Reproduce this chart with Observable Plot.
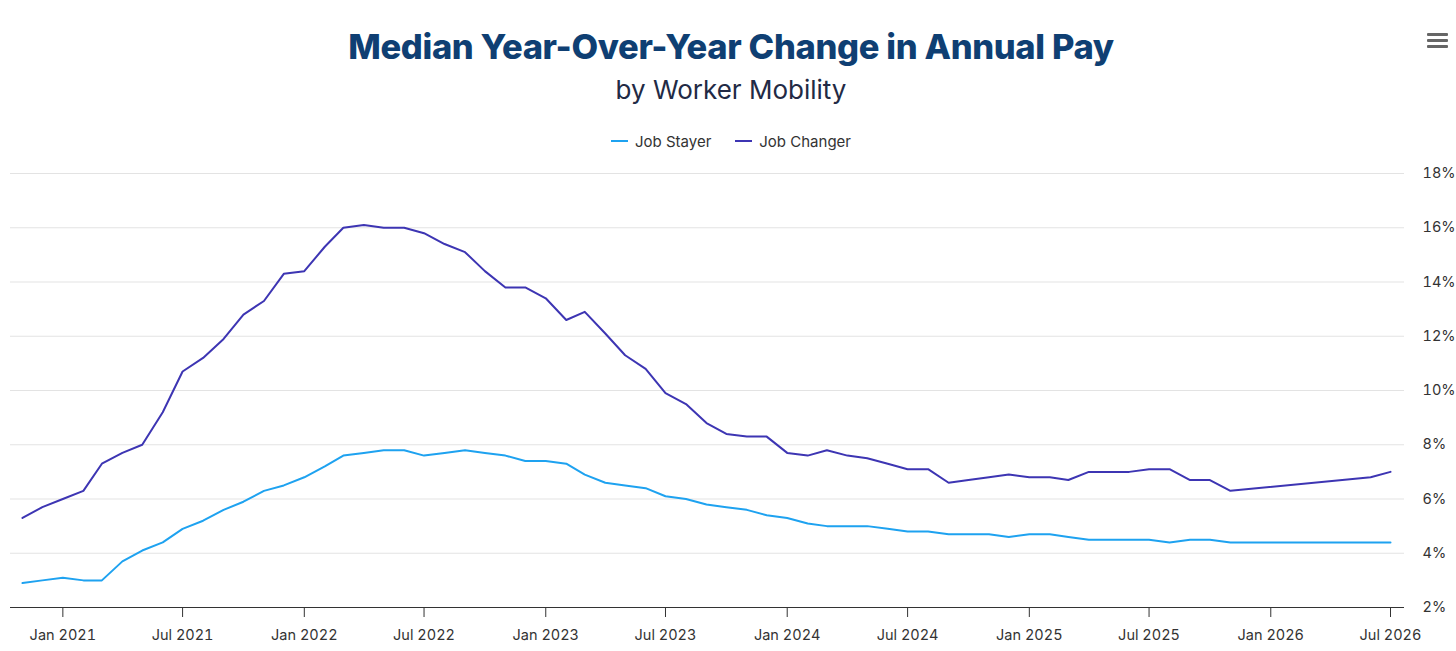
<!DOCTYPE html>
<html>
<head>
<meta charset="utf-8">
<script src="https://cdn.jsdelivr.net/npm/d3@7"></script>
<script src="https://cdn.jsdelivr.net/npm/@observablehq/plot@0.6"></script>
<style>
  html, body { margin: 0; padding: 0; background: #fff; }
  body { width: 1456px; height: 651px; position: relative; overflow: hidden; font-family: Inter, "Noto Sans", sans-serif; }
  #title { position: absolute; left: 0; width: 1462px; top: 26px; text-align: center; font-size: 34.5px; font-weight: 800; color: #0f3f73; letter-spacing: -0.35px; }
  #subtitle { position: absolute; left: 0; width: 1462px; top: 74px; text-align: center; font-size: 26px; font-weight: 400; color: #222a45; }
  #legend { position: absolute; left: 0; width: 1462px; top: 127px; text-align: center; font-size: 15px; color: #333; }
  #legend span.item { display: inline-flex; align-items: center; margin: 0 12px; }
  #legend span.sw { display: inline-block; width: 17px; height: 2px; margin-right: 7px; }
  #menu { position: absolute; left: 1427px; top: 33px; width: 21px; }
  #menu div { height: 3px; background: #666; margin-bottom: 3px; border-radius: 1px; }
  #chart { position: absolute; left: 0; top: 160px; }
</style>
</head>
<body>
<div id="title">Median Year-Over-Year Change in Annual Pay</div>
<div id="subtitle">by Worker Mobility</div>
<div id="legend"></div>
<div id="menu"><div></div><div></div><div></div></div>
<div id="chart"></div>
<script>
const months = [
  "2020-11","2020-12",
  "2021-01","2021-02","2021-03","2021-04","2021-05","2021-06","2021-07","2021-08","2021-09","2021-10","2021-11","2021-12",
  "2022-01","2022-02","2022-03","2022-04","2022-05","2022-06","2022-07","2022-08","2022-09","2022-10","2022-11","2022-12",
  "2023-01","2023-02","2023-03","2023-04","2023-05","2023-06","2023-07","2023-08","2023-09","2023-10","2023-11","2023-12",
  "2024-01","2024-02","2024-03","2024-04","2024-05","2024-06","2024-07","2024-08","2024-09","2024-10","2024-11","2024-12",
  "2025-01","2025-02","2025-03","2025-04","2025-05","2025-06","2025-07","2025-08","2025-09","2025-10","2025-11",
  "2026-06","2026-07"
];
const jobStayer = [
  2.9,3.0,
  3.1,3.0,3.0,3.7,4.1,4.4,4.9,5.2,5.6,5.9,6.3,6.5,
  6.8,7.2,7.6,7.7,7.8,7.8,7.6,7.7,7.8,7.7,7.6,7.4,
  7.4,7.3,6.9,6.6,6.5,6.4,6.1,6.0,5.8,5.7,5.6,5.4,
  5.3,5.1,5.0,5.0,5.0,4.9,4.8,4.8,4.7,4.7,4.7,4.6,
  4.7,4.7,4.6,4.5,4.5,4.5,4.5,4.4,4.5,4.5,4.4,
  4.4,4.4
];
const jobChanger = [
  5.3,5.7,
  6.0,6.3,7.3,7.7,8.0,9.2,10.7,11.2,11.9,12.8,13.3,14.3,
  14.4,15.3,16.0,16.1,16.0,16.0,15.8,15.4,15.1,14.4,13.8,13.8,
  13.4,12.6,12.9,12.1,11.3,10.8,9.9,9.5,8.8,8.4,8.3,8.3,
  7.7,7.6,7.8,7.6,7.5,7.3,7.1,7.1,6.6,6.7,6.8,6.9,
  6.8,6.8,6.7,7.0,7.0,7.0,7.1,7.1,6.7,6.7,6.3,
  6.8,7.0
];
const seriesNames = ["Job Stayer", "Job Changer"];
const seriesColors = ["#1ea2f0", "#3d35b3"];
const yTicks = [2,4,6,8,10,12,14,16,18];

const parse = d3.utcParse("%Y-%m");
const rows = [];
[jobStayer, jobChanger].forEach((vals, i) => {
  vals.forEach((v, j) => rows.push({date: parse(months[j]), value: v, series: seriesNames[i]}));
});

const xTicks = d3.utcMonth.every(6).range(parse("2021-01"), parse("2026-08"));

const chart = Plot.plot({
  width: 1456,
  height: 490,
  marginLeft: 10,
  marginRight: 52,
  marginTop: 13,
  marginBottom: 43,
  style: {fontFamily: "Inter, 'Noto Sans', sans-serif", fontSize: "14.5px", color: "#333", background: "transparent"},
  x: {type: "utc", domain: [parse(months[0]), parse(months[months.length - 1])], insetLeft: 12, insetRight: 14},
  y: {domain: [2, 18]},
  color: {domain: seriesNames, range: seriesColors},
  marks: [
    Plot.gridY(yTicks, {stroke: "#e3e3e3", strokeOpacity: 1}),
    Plot.axisY(yTicks, {anchor: "right", tickSize: 0, tickPadding: 18, textAnchor: "start", tickFormat: d => d + "%", fill: "#333", label: null}),
    Plot.axisX(xTicks, {tickSize: 10, tickPadding: 12, tickFormat: d3.utcFormat("%b %Y"), stroke: "#333", fill: "#333", label: null}),
    Plot.ruleY([2], {stroke: "#333", strokeWidth: 1}),
    Plot.line(rows, {x: "date", y: "value", z: "series", stroke: "series", strokeWidth: 2})
  ]
});
document.getElementById("chart").appendChild(chart);

const legend = document.getElementById("legend");
seriesNames.forEach((n, i) => {
  const item = document.createElement("span");
  item.className = "item";
  const sw = document.createElement("span");
  sw.className = "sw";
  sw.style.background = seriesColors[i];
  item.appendChild(sw);
  item.appendChild(document.createTextNode(n));
  legend.appendChild(item);
});
</script>
</body>
</html>
